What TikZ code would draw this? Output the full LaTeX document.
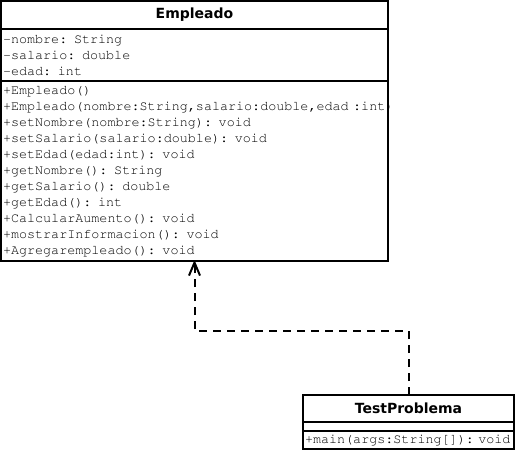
\documentclass[tikz,border=0pt]{standalone}
\usepackage[T1]{fontenc}
\usepackage{fontspec}
\usepackage{tikz}
\usetikzlibrary{arrows.meta, positioning}
\newfontfamily\titlefont{DejaVu Sans}
\newcommand{\codefont}{\fontencoding{T1}\fontfamily{pcr}\fontseries{m}\selectfont}
\tikzstyle{chead} = [rectangle, draw, line width=2pt, outer sep=0pt, inner sep=0pt, font=\titlefont\bfseries\fontsize{14}{16}\selectfont]
\tikzstyle{cpart} = [rectangle, draw, line width=2pt, outer sep=0pt, inner xsep=2pt, inner ysep=0pt, align=left, font=\codefont\fontsize{13.4}{16}\selectfont]
\tikzstyle{dep} = [draw, dashed, dash pattern=on 8pt off 6pt, line width=2pt, -{Straight Barb[length=13pt, width=11pt, line width=2pt]}]

\begin{document}
\begin{tikzpicture}[x=1pt, y=-1pt]
			\useasboundingbox (0,0) rectangle (516,451);
			% clase Empleado
			\node [chead, anchor=north west, minimum width=387pt, minimum height=28pt] (emp) at (1,1) {Empleado};
			\node [cpart, text width=383pt, minimum height=52pt, below=0pt of emp] (empattr) {-nombre: String\\-salario: double\\-edad: int};
			\node [cpart, text width=383pt, minimum height=180pt, below=0pt of empattr] (empmeth) {+Empleado()\\+Empleado(nombre:String,salario:double,edad~:int)\\+setNombre(nombre:String): void\\+setSalario(salario:double): void\\+setEdad(edad:int): void\\+getNombre(): String\\+getSalario(): double\\+getEdad(): int\\+CalcularAumento(): void\\+mostrarInformacion(): void\\+Agregarempleado(): void};
			
			% clase TestProblema
			\node [chead, anchor=north west, minimum width=211pt, minimum height=27pt] (test) at (303,395) {TestProblema};
			\node [cpart, text width=207pt, minimum height=9pt, below=0pt of test] (testattr) {};
			\node [cpart, text width=207pt, minimum height=18pt, below=0pt of testattr] (testmeth) {+main(args:String[]):~void};
			
			\path [dep] (test.north) -- ++(0,-64) -| ([yshift=1pt]empmeth.south);
		\end{tikzpicture}
\end{document}
